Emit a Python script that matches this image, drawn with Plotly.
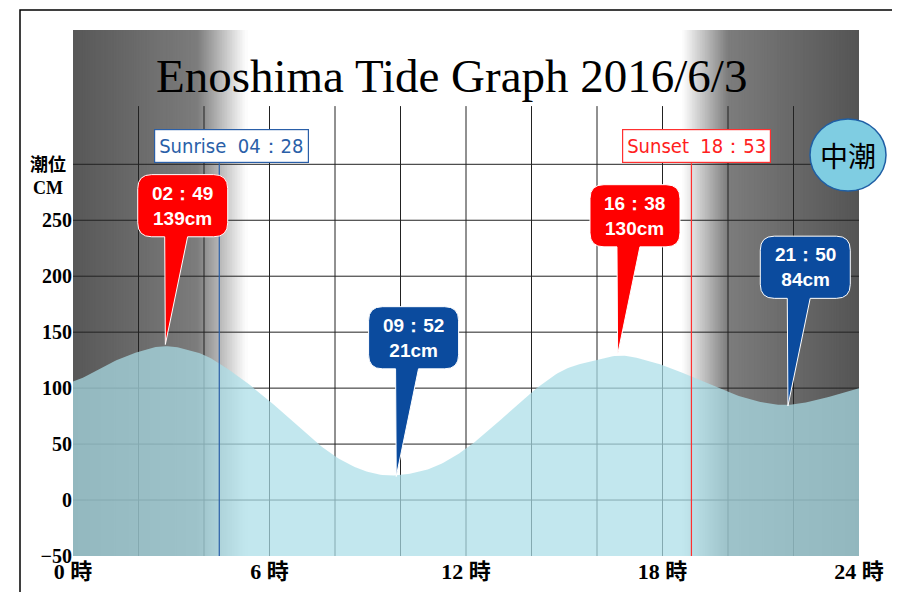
import plotly.graph_objects as go
import numpy as np

# data
hours = [0, 1, 2, 2.82, 4, 5, 6, 7, 8, 9, 9.87, 11, 12, 13, 14, 15, 16.63, 17, 18, 19, 20, 21, 21.83, 23, 24]
levels = [104, 121, 133, 139, 131, 112, 89, 62, 38, 24, 21, 28, 45, 70, 97, 118, 130, 129, 121, 109, 96, 87, 84, 91, 101]
peak_times = [2.82, 9.87, 16.63, 21.83]
peak_vals = [139, 21, 130, 84]
peak_labels = ["02：49<br>139cm", "09：52<br>21cm", "16：38<br>130cm", "21：50<br>84cm"]
peak_kind = ["high", "low", "high", "low"]
sunrise, sunset = 4 + 28/60, 18 + 53/60
ytick_vals = [-50, 0, 50, 100, 150, 200, 250]
xtick_vals = [0, 6, 12, 18, 24]
xtick_text = ["0 時", "6 時", "12 時", "18 時", "24 時"]

RED, BLUE = "#ff0000", "#0b4b9e"
x_t = np.linspace(0, 24, 400)
y_t = np.interp(x_t, hours, levels)
k = np.ones(15)/15
ys = np.convolve(np.pad(y_t, 7, mode="edge"), k, mode="valid")

fig = go.Figure()
fig.add_trace(go.Scatter(x=[0, 24], y=[-50, -50], mode="lines", line=dict(width=0), hoverinfo="skip"))
fig.add_trace(go.Scatter(x=x_t, y=ys, mode="lines", line=dict(width=0), fill="tonexty",
                         fillcolor="rgba(170,222,232,0.72)", hoverinfo="skip"))

shapes = []
def gray(t):
    if t < 3.8:
        v = 88 + (125 - 88) * t / 3.8
    elif t < 5.3:
        v = 125 + (255 - 125) * (t - 3.8) / 1.5
    elif t < 18.6:
        v = 255
    elif t < 20.0:
        v = 255 - (255 - 125) * (t - 18.6) / 1.4
    else:
        v = 125 - (125 - 85) * (t - 20) / 4
    return int(v)
step = 0.05
for t in np.arange(0, 24, step):
    g = gray(t + step/2)
    if g >= 255:
        continue
    c = f"rgb({g},{g},{g})"
    shapes.append(dict(type="rect", xref="x", yref="y", x0=t, x1=min(24, t+step*2), y0=-50, y1=420,
                       fillcolor=c, line=dict(width=0), layer="below"))
for h in range(2, 24, 2):
    shapes.append(dict(type="line", xref="x", yref="y", x0=h, x1=h, y0=-50, y1=352,
                       line=dict(color="#222", width=1), layer="below"))
for v in range(0, 301, 50):
    shapes.append(dict(type="line", xref="x", yref="y", x0=0, x1=24, y0=v, y1=v,
                       line=dict(color="#222", width=1), layer="below"))
shapes.append(dict(type="line", xref="x", yref="y", x0=sunrise, x1=sunrise, y0=-50, y1=301,
                   line=dict(color="#2a5fa8", width=1.2)))
shapes.append(dict(type="line", xref="x", yref="y", x0=sunset, x1=sunset, y0=-50, y1=301,
                   line=dict(color="#ff3030", width=1.2)))

HPX, VPX = 32.75, 55.8/50
for t, v, kind in zip(peak_times, peak_vals, peak_kind):
    col = RED if kind == "high" else BLUE
    cx, cy = t + 0.53, v + 124
    w, hh = 45/HPX, 31/VPX
    rx, ry = 14/HPX, 14/VPX
    x0, x1, y0, y1 = cx - w, cx + w, cy - hh, cy + hh
    tl, tr = cx - 0.55, cx + 0.15
    p = (f"M {x0+rx},{y1} L {x1-rx},{y1} Q {x1},{y1} {x1},{y1-ry} L {x1},{y0+ry} "
         f"Q {x1},{y0} {x1-rx},{y0} L {tr},{y0} L {t},{v} L {tl},{y0} L {x0+rx},{y0} "
         f"Q {x0},{y0} {x0},{y0+ry} L {x0},{y1-ry} Q {x0},{y1} {x0+rx},{y1} Z")
    shapes.append(dict(type="path", xref="x", yref="y", path=p, fillcolor=col,
                       line=dict(color="white", width=1)))

shapes.append(dict(type="rect", xref="paper", yref="paper", x0=(12-65)/786, x1=(890-65)/786,
                   y0=-(588-548)/526, y1=(548-2)/526, line=dict(color="black", width=1.5)))
shapes.append(dict(type="circle", xref="paper", yref="paper", x0=(802-65)/786, x1=(878-65)/786,
                   y0=(548-183)/526, y1=(548-111)/526, fillcolor="#7fcde2", line=dict(color="#1f5fa5", width=1.5)))

ann = []
for t, v, txt in zip(peak_times, peak_vals, peak_labels):
    ann.append(dict(x=t + 0.53, y=v + 124, xref="x", yref="y", text=txt, showarrow=False,
                    font=dict(family="Liberation Sans, Arial", size=19, color="white", weight="bold")))
ann.append(dict(x=(443-65)/786, y=(548-68)/526, xref="paper", yref="paper", text="Enoshima Tide Graph 2016/6/3",
                showarrow=False, xanchor="center", yanchor="middle",
                font=dict(family="Liberation Serif, serif", size=47, color="black")))
ann.append(dict(x=sunrise, y=301, xref="x", yref="y", xanchor="right", yanchor="bottom", text="Sunrise  04：28",
                showarrow=False, bgcolor="white", bordercolor="#2a5fa8", borderwidth=1.2, borderpad=4,
                font=dict(family="DejaVu Sans Condensed, Liberation Sans Narrow", size=20, color="#2a5fa8"), xshift=90))
ann.append(dict(x=sunset, y=301, xref="x", yref="y", xanchor="right", yanchor="bottom", text="Sunset  18：53",
                showarrow=False, bgcolor="white", bordercolor="#ff3030", borderwidth=1.2, borderpad=4,
                font=dict(family="DejaVu Sans Condensed, Liberation Sans Narrow", size=20, color="#ff2020"), xshift=80))
ann.append(dict(x=(840-65)/786, y=(548-147)/526, xref="paper", yref="paper", text="中潮", showarrow=False,
                xanchor="center", yanchor="middle",
                font=dict(family="Noto Sans CJK JP", size=28, color="black")))
ann.append(dict(x=(40-65)/786, y=(548-168)/526, xref="paper", yref="paper", xanchor="center", yanchor="middle",
                text="潮位<br>CM", showarrow=False,
                font=dict(family="Liberation Serif, Noto Sans CJK JP", size=18, color="black", weight="bold")))

fig.update_layout(
    width=900, height=592, margin=dict(l=65, r=49, t=22, b=44, autoexpand=False),
    paper_bgcolor="white", plot_bgcolor="white", showlegend=False,
    shapes=shapes, annotations=ann,
    xaxis=dict(range=[0, 24], tickvals=xtick_vals, ticktext=xtick_text, showgrid=False, zeroline=False,
               automargin=False,
               tickfont=dict(family="Liberation Serif, Noto Sans CJK JP", size=22, color="black", weight="bold"), ticks=""),
    yaxis=dict(range=[-50, 420], tickvals=ytick_vals, showgrid=False, zeroline=False, ticks="", automargin=False,
               tickfont=dict(family="Liberation Serif", size=20, color="black", weight="bold")),
)
fig.write_html("out.html")
